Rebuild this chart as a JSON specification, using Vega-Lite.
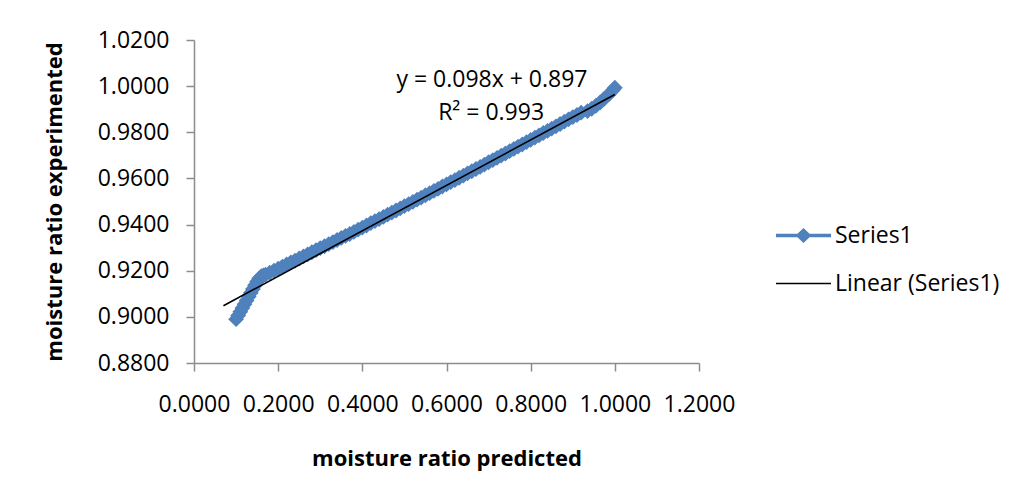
{
  "$schema": "https://vega.github.io/schema/vega-lite/v6.json",
  "width": 505,
  "height": 323,
  "autosize": {"type": "none"},
  "padding": {"left": 194, "top": 40, "right": 322, "bottom": 139},
  "background": "white",
  "config": {
    "view": {"stroke": null},
    "font": "Open Sans",
    "axis": {
      "grid": false,
      "domainColor": "#8C8C8C",
      "domainWidth": 1.5,
      "tickColor": "#8C8C8C",
      "tickWidth": 1.5,
      "tickSize": 8,
      "labelFont": "Open Sans",
      "labelFontSize": 23,
      "labelColor": "#000000",
      "labelOverlap": false,
      "labelFlush": false,
      "titleFont": "Open Sans",
      "titleFontSize": 22,
      "titleFontWeight": "bold",
      "titleColor": "#000000"
    }
  },
  "datasets": {
    "series": [
      {"x": 0.100, "y": 0.8990, "series": "Series1"},
      {"x": 0.105, "y": 0.9006, "series": "Series1"},
      {"x": 0.110, "y": 0.9022, "series": "Series1"},
      {"x": 0.115, "y": 0.9038, "series": "Series1"},
      {"x": 0.120, "y": 0.9055, "series": "Series1"},
      {"x": 0.125, "y": 0.9071, "series": "Series1"},
      {"x": 0.130, "y": 0.9088, "series": "Series1"},
      {"x": 0.135, "y": 0.9104, "series": "Series1"},
      {"x": 0.140, "y": 0.9121, "series": "Series1"},
      {"x": 0.145, "y": 0.9137, "series": "Series1"},
      {"x": 0.150, "y": 0.9153, "series": "Series1"},
      {"x": 0.155, "y": 0.9167, "series": "Series1"},
      {"x": 0.160, "y": 0.9176, "series": "Series1"},
      {"x": 0.165, "y": 0.9180, "series": "Series1"},
      {"x": 0.170, "y": 0.9183, "series": "Series1"},
      {"x": 0.180, "y": 0.9192, "series": "Series1"},
      {"x": 0.190, "y": 0.9200, "series": "Series1"},
      {"x": 0.200, "y": 0.9209, "series": "Series1"},
      {"x": 0.210, "y": 0.9218, "series": "Series1"},
      {"x": 0.220, "y": 0.9227, "series": "Series1"},
      {"x": 0.230, "y": 0.9236, "series": "Series1"},
      {"x": 0.240, "y": 0.9244, "series": "Series1"},
      {"x": 0.250, "y": 0.9253, "series": "Series1"},
      {"x": 0.260, "y": 0.9262, "series": "Series1"},
      {"x": 0.270, "y": 0.9271, "series": "Series1"},
      {"x": 0.280, "y": 0.9280, "series": "Series1"},
      {"x": 0.290, "y": 0.9289, "series": "Series1"},
      {"x": 0.300, "y": 0.9298, "series": "Series1"},
      {"x": 0.310, "y": 0.9306, "series": "Series1"},
      {"x": 0.320, "y": 0.9315, "series": "Series1"},
      {"x": 0.330, "y": 0.9324, "series": "Series1"},
      {"x": 0.340, "y": 0.9333, "series": "Series1"},
      {"x": 0.350, "y": 0.9342, "series": "Series1"},
      {"x": 0.360, "y": 0.9351, "series": "Series1"},
      {"x": 0.370, "y": 0.9359, "series": "Series1"},
      {"x": 0.380, "y": 0.9368, "series": "Series1"},
      {"x": 0.390, "y": 0.9378, "series": "Series1"},
      {"x": 0.400, "y": 0.9387, "series": "Series1"},
      {"x": 0.410, "y": 0.9396, "series": "Series1"},
      {"x": 0.420, "y": 0.9406, "series": "Series1"},
      {"x": 0.430, "y": 0.9415, "series": "Series1"},
      {"x": 0.440, "y": 0.9424, "series": "Series1"},
      {"x": 0.450, "y": 0.9433, "series": "Series1"},
      {"x": 0.460, "y": 0.9443, "series": "Series1"},
      {"x": 0.470, "y": 0.9452, "series": "Series1"},
      {"x": 0.480, "y": 0.9461, "series": "Series1"},
      {"x": 0.490, "y": 0.9470, "series": "Series1"},
      {"x": 0.500, "y": 0.9480, "series": "Series1"},
      {"x": 0.510, "y": 0.9489, "series": "Series1"},
      {"x": 0.520, "y": 0.9498, "series": "Series1"},
      {"x": 0.530, "y": 0.9508, "series": "Series1"},
      {"x": 0.540, "y": 0.9517, "series": "Series1"},
      {"x": 0.550, "y": 0.9527, "series": "Series1"},
      {"x": 0.560, "y": 0.9536, "series": "Series1"},
      {"x": 0.570, "y": 0.9546, "series": "Series1"},
      {"x": 0.580, "y": 0.9555, "series": "Series1"},
      {"x": 0.590, "y": 0.9565, "series": "Series1"},
      {"x": 0.600, "y": 0.9574, "series": "Series1"},
      {"x": 0.610, "y": 0.9584, "series": "Series1"},
      {"x": 0.620, "y": 0.9593, "series": "Series1"},
      {"x": 0.630, "y": 0.9603, "series": "Series1"},
      {"x": 0.640, "y": 0.9612, "series": "Series1"},
      {"x": 0.650, "y": 0.9622, "series": "Series1"},
      {"x": 0.660, "y": 0.9631, "series": "Series1"},
      {"x": 0.670, "y": 0.9641, "series": "Series1"},
      {"x": 0.680, "y": 0.9650, "series": "Series1"},
      {"x": 0.690, "y": 0.9660, "series": "Series1"},
      {"x": 0.700, "y": 0.9670, "series": "Series1"},
      {"x": 0.710, "y": 0.9679, "series": "Series1"},
      {"x": 0.720, "y": 0.9689, "series": "Series1"},
      {"x": 0.730, "y": 0.9699, "series": "Series1"},
      {"x": 0.740, "y": 0.9708, "series": "Series1"},
      {"x": 0.750, "y": 0.9718, "series": "Series1"},
      {"x": 0.760, "y": 0.9728, "series": "Series1"},
      {"x": 0.770, "y": 0.9738, "series": "Series1"},
      {"x": 0.780, "y": 0.9747, "series": "Series1"},
      {"x": 0.790, "y": 0.9757, "series": "Series1"},
      {"x": 0.800, "y": 0.9767, "series": "Series1"},
      {"x": 0.810, "y": 0.9777, "series": "Series1"},
      {"x": 0.820, "y": 0.9787, "series": "Series1"},
      {"x": 0.830, "y": 0.9797, "series": "Series1"},
      {"x": 0.840, "y": 0.9806, "series": "Series1"},
      {"x": 0.850, "y": 0.9816, "series": "Series1"},
      {"x": 0.860, "y": 0.9826, "series": "Series1"},
      {"x": 0.870, "y": 0.9836, "series": "Series1"},
      {"x": 0.880, "y": 0.9846, "series": "Series1"},
      {"x": 0.890, "y": 0.9856, "series": "Series1"},
      {"x": 0.900, "y": 0.9866, "series": "Series1"},
      {"x": 0.910, "y": 0.9875, "series": "Series1"},
      {"x": 0.920, "y": 0.9885, "series": "Series1"},
      {"x": 0.935, "y": 0.9892, "series": "Series1"},
      {"x": 0.945, "y": 0.9902, "series": "Series1"},
      {"x": 0.955, "y": 0.9915, "series": "Series1"},
      {"x": 0.965, "y": 0.9929, "series": "Series1"},
      {"x": 0.975, "y": 0.9946, "series": "Series1"},
      {"x": 0.985, "y": 0.9963, "series": "Series1"},
      {"x": 0.995, "y": 0.9982, "series": "Series1"},
      {"x": 1.000, "y": 0.9993, "series": "Series1"}
    ],
    "trend": [
      {"x": 0.07, "y": 0.9048, "series": "Linear (Series1)"},
      {"x": 1.00, "y": 0.9964, "series": "Linear (Series1)"}
    ],
    "labels": [
      {"x": 0.708, "y": 1.0026, "label": "y = 0.098x + 0.897"},
      {"x": 0.706, "y": 0.9883, "label": "R² = 0.993"}
    ]
  },
  "layer": [
    {
      "data": {"name": "series"},
      "mark": {"type": "line", "strokeWidth": 3, "point": {"filled": true, "shape": "diamond", "size": 250}},
      "encoding": {
        "x": {
          "field": "x", "type": "quantitative",
          "scale": {"domain": [0, 1.2], "nice": false, "zero": false},
          "axis": {"values": [0, 0.2, 0.4, 0.6, 0.8, 1.0, 1.2], "format": ".4f", "labelPadding": 22, "title": "moisture ratio predicted", "titlePadding": 32}
        },
        "y": {
          "field": "y", "type": "quantitative",
          "scale": {"domain": [0.88, 1.02], "nice": false, "zero": false},
          "axis": {"values": [0.88, 0.9, 0.92, 0.94, 0.96, 0.98, 1.0, 1.02], "format": ".4f", "labelPadding": 17, "title": "moisture ratio experimented", "titlePadding": 31}
        },
        "color": {
          "field": "series", "type": "nominal",
          "scale": {"domain": ["Series1", "Linear (Series1)"], "range": ["#4F81BD", "#000000"]},
          "legend": {
            "orient": "none",
            "legendX": 581,
            "legendY": 184,
            "title": null,
            "padding": 0,
            "symbolSize": 3025,
            "symbolOffset": 17,
            "labelFont": "Open Sans",
            "labelFontSize": 23,
            "labelColor": "#000000",
            "labelOffset": 20,
            "labelLimit": 400,
            "rowPadding": 24,
            "encode": {
              "symbols": {
                "update": {
                  "shape": {"signal": "datum.value === 'Series1' ? 'M-1,-0.06L-0.22,-0.06L0,-0.27L0.22,-0.06L1,-0.06L1,0.06L0.22,0.06L0,0.27L-0.22,0.06L-1,0.06Z' : 'M-1,0L1,0'"},
                  "fill": {"signal": "datum.value === 'Series1' ? '#4F81BD' : 'transparent'"},
                  "stroke": {"signal": "datum.value === 'Series1' ? '#4F81BD' : '#000000'"},
                  "strokeWidth": {"signal": "datum.value === 'Series1' ? 0 : 1.5"},
                  "opacity": {"value": 1}
                }
              }
            }
          }
        }
      }
    },
    {
      "data": {"name": "trend"},
      "mark": {"type": "line", "strokeWidth": 1.6},
      "encoding": {
        "x": {"field": "x", "type": "quantitative"},
        "y": {"field": "y", "type": "quantitative"},
        "color": {"field": "series", "type": "nominal"}
      }
    },
    {
      "data": {"name": "labels"},
      "mark": {"type": "text", "font": "Open Sans", "fontSize": 23, "color": "#000000", "align": "center", "baseline": "middle"},
      "encoding": {
        "x": {"field": "x", "type": "quantitative"},
        "y": {"field": "y", "type": "quantitative"},
        "text": {"field": "label"}
      }
    }
  ]
}
